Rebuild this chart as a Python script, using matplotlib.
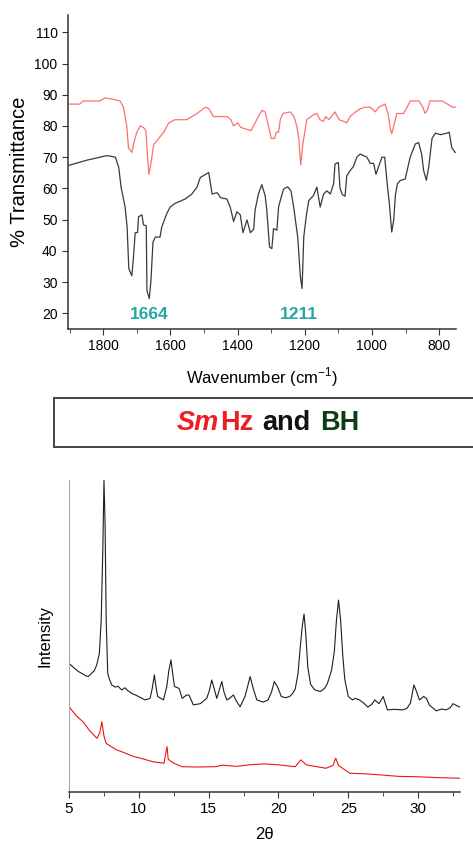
import numpy as np
import matplotlib
matplotlib.use('Agg')
import matplotlib.pyplot as plt
from matplotlib.ticker import MultipleLocator, NullLocator
from matplotlib.offsetbox import TextArea, HPacker, AnchoredOffsetbox

plt.rcParams['font.family'] = ['Liberation Sans', 'DejaVu Sans']

### IR spectra (wavenumber in cm-1, % transmittance) ###

ir_red_wn = [1905, 1870, 1860, 1810, 1795, 1770, 1750, 1740, 1730, 1725,
             1715, 1708, 1700, 1690, 1680, 1673, 1668, 1664, 1658, 1650,
             1635, 1620, 1605, 1586, 1551, 1521, 1495, 1485, 1472, 1432,
             1420, 1412, 1400, 1390, 1375, 1360, 1348, 1338, 1328, 1318,
             1308, 1300, 1290, 1285, 1278, 1273, 1265, 1243, 1232, 1224,
             1218, 1212, 1206, 1194, 1175, 1164, 1155, 1144, 1138, 1128,
             1110, 1098, 1085, 1075, 1065, 1055, 1035, 1020, 1005, 990,
             980, 961, 952, 945, 941, 935, 926, 906, 895, 886,
             860, 848, 842, 835, 827, 790, 775, 760, 752]
ir_red_T = [87, 87, 88, 88, 89, 88.5, 88, 86, 80, 73,
            71.5, 75, 78, 80, 79.5, 78.5, 70, 64.5, 68, 74,
            76, 78, 81, 82, 82, 84, 86, 85.5, 83, 83,
            82, 80, 81, 79.5, 79, 78.5, 81, 83, 85, 84.5,
            80, 76, 76, 78, 78, 82, 84, 84.5, 83, 80,
            76, 67.5, 74, 82, 83.5, 84, 82, 81.5, 83, 82,
            84.5, 82, 81.5, 81, 83, 84, 85.5, 86, 86, 84.5,
            86, 87, 84, 79, 77.5, 80, 84, 84, 86, 88,
            88, 86, 84, 85, 88, 88, 87, 86, 86]

ir_black_wn = [1905, 1850, 1789, 1764, 1754, 1747, 1735, 1729, 1724, 1715,
               1710, 1705, 1698, 1695, 1685, 1680, 1672, 1670, 1663, 1658,
               1652, 1645, 1631, 1626, 1611, 1601, 1586, 1556, 1536, 1521,
               1511, 1486, 1476, 1461, 1450, 1432, 1422, 1412, 1402, 1392,
               1384, 1372, 1362, 1352, 1348, 1338, 1328, 1318, 1313, 1305,
               1298, 1293, 1283, 1278, 1273, 1263, 1251, 1241, 1233, 1221,
               1213, 1208, 1203, 1195, 1188, 1174, 1164, 1154, 1144, 1134,
               1124, 1114, 1110, 1100, 1095, 1088, 1080, 1075, 1065, 1055,
               1045, 1035, 1015, 1005, 995, 988, 980, 970, 962, 955,
               948, 941, 935, 930, 924, 916, 901, 886, 871, 861,
               852, 846, 838, 831, 821, 811, 796, 776, 770, 762, 752]
ir_black_T = [67.3, 69, 70.5, 70, 66.7, 60.4, 54, 47.6, 34.3, 32,
              38, 45.8, 45.8, 50.9, 51.5, 48.3, 48, 27.3, 24.7, 30.5,
              42.8, 44.4, 44.4, 47.6, 51.9, 54, 55.2, 56.6, 58.2, 60.4,
              63.5, 65.1, 58.2, 58.6, 57, 56.6, 54, 49.4, 52.5, 51.5,
              45.8, 49.9, 45.8, 46.9, 53, 58.2, 61.2, 57.7, 53, 41.2,
              40.7, 47.1, 46.6, 54, 56.1, 59.8, 60.5, 59.2, 54, 44.4,
              31.6, 27.9, 44.4, 51.5, 56.1, 57.7, 60.4, 54, 58.2, 59.2,
              58.2, 61.5, 67.8, 68.3, 60, 58, 57.5, 64, 65.7, 67,
              70, 71, 70, 68, 68, 64.5, 67, 70, 70, 62,
              55, 46, 50, 58, 61.5, 62.5, 63, 70, 74.2, 74.7,
              71, 65.7, 62.6, 66.8, 76, 77.7, 77.2, 77.7, 78, 73, 71.5]

ir_marks = ['1664', '1211']
ir_mark_pos = [1662, 1217]

### XRD patterns: (2 theta, arbitrary intensity) ###

xrd_black = [(5.0, 41.2), (5.3, 40), (5.67, 38.6), (6.0, 37.8), (6.2, 37.2),
             (6.38, 37), (6.6, 38), (6.8, 38.8), (6.98, 40.7), (7.17, 44.4),
             (7.3, 55), (7.42, 78), (7.5, 100), (7.58, 86), (7.66, 55),
             (7.77, 38), (7.9, 36), (8.06, 34.3), (8.3, 33.6), (8.5, 33.9),
             (8.77, 32.7), (9.0, 33.4), (9.2, 32.5), (9.49, 31.6), (9.8, 31),
             (10.1, 30.3), (10.44, 29.5), (10.8, 30), (10.95, 33), (11.11, 37.5),
             (11.25, 33), (11.35, 30.6), (11.76, 29.5), (12.0, 33.8), (12.15, 39),
             (12.3, 42.3), (12.45, 37), (12.55, 33.8), (12.88, 33.2), (13.1, 30),
             (13.43, 31.1), (13.6, 31), (13.9, 27.9), (14.4, 28.3), (14.86, 30),
             (15.05, 32.5), (15.22, 35.9), (15.4, 33), (15.58, 30), (15.94, 35.4),
             (16.1, 32), (16.3, 29.5), (16.5, 30), (16.77, 31.1), (17.0, 29),
             (17.25, 27.3), (17.6, 30.6), (17.8, 34), (17.97, 37), (18.2, 33),
             (18.45, 29.5), (18.9, 28.8), (19.25, 29.5), (19.5, 32), (19.7, 35.4),
             (19.95, 33.5), (20.2, 30.6), (20.5, 30.2), (20.8, 30.6), (21.0, 31.5),
             (21.2, 33), (21.4, 38), (21.55, 46), (21.7, 53), (21.83, 57),
             (21.95, 51), (22.1, 40), (22.3, 34.5), (22.6, 32.7), (23.0, 32.2),
             (23.3, 33.2), (23.5, 34.7), (23.8, 39), (24.0, 45), (24.15, 55),
             (24.3, 61.5), (24.45, 55), (24.6, 44), (24.75, 36), (25.0, 30.6),
             (25.3, 29.5), (25.5, 30), (25.8, 29.5), (26.1, 28.5), (26.4, 27.2),
             (26.7, 28.2), (26.9, 29.5), (27.2, 28.3), (27.5, 30.6), (27.8, 26.3),
             (28.3, 26.5), (28.9, 26.3), (29.2, 26.8), (29.45, 28.5), (29.7, 34.3),
             (29.9, 32), (30.1, 29.5), (30.4, 30.6), (30.6, 30), (30.8, 27.9),
             (31.3, 26), (31.7, 26.6), (32.0, 26.3), (32.3, 27), (32.5, 28.3),
             (32.8, 27.6), (33.0, 27.2)]

xrd_red = [(5.0, 27.3), (5.5, 24.5), (6.0, 22.5), (6.5, 19.5), (7.0, 17.2),
           (7.2, 19), (7.35, 22.5), (7.5, 18), (7.65, 15.6), (8.0, 14.6),
           (8.4, 13.5), (9.0, 12.5), (9.6, 11.4), (10.3, 10.6), (11.0, 9.7),
           (11.8, 9.2), (11.95, 13), (12.02, 14.5), (12.1, 10.5), (12.5, 9.2),
           (13.1, 8.1), (14.2, 8.0), (15.5, 8.1), (16.0, 8.6), (17.0, 8.2),
           (17.9, 8.7), (19.0, 9.0), (20.0, 8.7), (21.2, 8.1), (21.6, 10.3),
           (22.0, 8.7), (23.4, 7.6), (23.9, 8.5), (24.1, 10.8), (24.3, 8.5),
           (25.1, 6), (26.3, 5.8), (27.5, 5.4), (28.6, 5.0), (29.8, 4.9),
           (31.4, 4.6), (33.0, 4.4)]

xb_2t, xb_I = np.array(xrd_black).T
xr_2t, xr_I = np.array(xrd_red).T

fig = plt.figure(figsize=(4.73, 8.41), dpi=100)

# --- IR panel ---
ax1 = fig.add_axes([0.1438, 0.609, 0.820, 0.373])
ax1.plot(ir_red_wn, ir_red_T, color='#ff6f6f', linewidth=0.9)
ax1.plot(ir_black_wn, ir_black_T, color='#3a3a3a', linewidth=0.9)
ax1.set_xlim(1905, 750)
ax1.set_ylim(15, 115.5)
ax1.xaxis.set_major_locator(MultipleLocator(200))
ax1.xaxis.set_minor_locator(MultipleLocator(100))
ax1.yaxis.set_major_locator(MultipleLocator(10))
ax1.spines['top'].set_visible(False)
ax1.spines['right'].set_visible(False)
for s in ['left', 'bottom']:
    ax1.spines[s].set_color('#333333')
    ax1.spines[s].set_linewidth(1.1)
ax1.tick_params(which='both', direction='out', color='#333333', labelsize=10)
ax1.tick_params(which='major', length=4)
ax1.tick_params(which='minor', length=3)
ax1.set_ylabel('% Transmittance', fontsize=14.5, labelpad=4)
ax1.set_xlabel('Wavenumber (cm$^{\\mathregular{-1}}$)', fontsize=12, labelpad=9)
for lab, pos in zip(ir_marks, ir_mark_pos):
    ax1.text(pos, 19.5, lab, color='#27a6a3', fontsize=12.5,
             fontweight='bold', ha='center', va='center')

# --- title box ---
axb = fig.add_axes([0.114, 0.4685, 0.91, 0.0583])
axb.set_xticks([])
axb.set_yticks([])
for s in axb.spines.values():
    s.set_color('#444444')
    s.set_linewidth(1.4)
tp = dict(fontsize=19.5, fontweight='bold')
sm = TextArea('Sm', textprops=dict(color='#ee1c24', fontstyle='italic', **tp))
hz = TextArea('Hz', textprops=dict(color='#ee1c24', **tp))
and_ = TextArea('and', textprops=dict(color='#111111', **tp))
bh = TextArea('BH', textprops=dict(color='#0f3d12', **tp))
pack = HPacker(children=[HPacker(children=[sm, hz], sep=1, pad=0, align='baseline'),
                         and_, bh], sep=6.5, pad=0, align='baseline')
box = AnchoredOffsetbox(loc='center', child=pack, frameon=False,
                        bbox_to_anchor=(0.566, 0.4975),
                        bbox_transform=fig.transFigure, borderpad=0, pad=0)
fig.add_artist(box)

# --- XRD panel ---
ax2 = fig.add_axes([0.146, 0.0583, 0.8265, 0.371])
ax2.plot(xb_2t, xb_I, color='#1e1e1e', linewidth=0.8)
ax2.plot(xr_2t, xr_I, color='#ee1515', linewidth=0.8)
ax2.set_xlim(5, 33)
ax2.set_ylim(0, 100)
ax2.xaxis.set_major_locator(MultipleLocator(5))
ax2.xaxis.set_minor_locator(MultipleLocator(2.5))
ax2.yaxis.set_major_locator(NullLocator())
ax2.spines['top'].set_visible(False)
ax2.spines['right'].set_visible(False)
ax2.spines['left'].set_color('#aaaaaa')
ax2.spines['bottom'].set_color('#333333')
ax2.spines['bottom'].set_linewidth(1.1)
ax2.tick_params(which='both', direction='out', color='#333333', labelsize=11)
ax2.tick_params(which='major', length=4)
ax2.tick_params(which='minor', length=3)
ax2.set_ylabel('Intensity', fontsize=12, labelpad=12)
ax2.set_xlabel('2θ', fontsize=12, labelpad=8)

plt.savefig('out.png', dpi=100)
